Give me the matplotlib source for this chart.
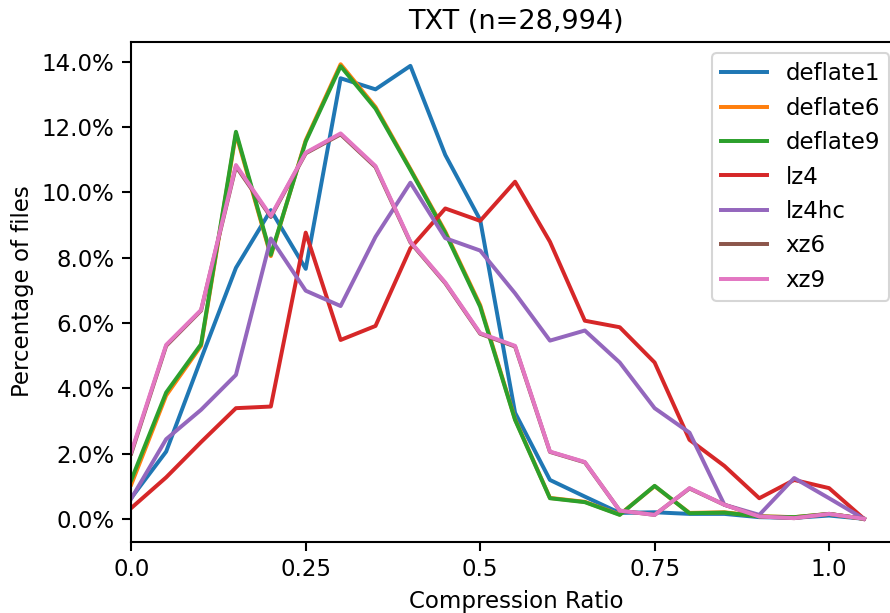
import matplotlib
matplotlib.use("Agg")
import matplotlib.pyplot as plt
from matplotlib.ticker import PercentFormatter

# compression ratio buckets (0.00 .. 1.05, step 0.05)
ratios = [0.0, 0.05, 0.1, 0.15, 0.2, 0.25, 0.3, 0.35, 0.4, 0.45, 0.5,
          0.55, 0.6, 0.65, 0.7, 0.75, 0.8, 0.85, 0.9, 0.95, 1.0, 1.05]

# percentage of files per bucket, one list per codec
deflate1 = [0.64, 2.06, 4.9, 7.69, 9.46, 7.66, 13.5, 13.16, 13.88, 11.15, 9.16,
            3.25, 1.19, 0.68, 0.18, 0.2, 0.15, 0.15, 0.05, 0.03, 0.1, 0.0]
deflate6 = [1.05, 3.78, 5.3, 11.8, 8.05, 11.6, 13.93, 12.62, 10.72, 8.8, 6.55,
            3.05, 0.64, 0.52, 0.13, 1.0, 0.18, 0.2, 0.08, 0.05, 0.15, 0.0]
deflate9 = [1.19, 3.87, 5.35, 11.86, 8.09, 11.56, 13.87, 12.57, 10.69, 8.76, 6.5,
            3.03, 0.63, 0.51, 0.12, 1.01, 0.17, 0.19, 0.07, 0.05, 0.15, 0.0]
lz4 = [0.33, 1.27, 2.35, 3.39, 3.44, 8.77, 5.48, 5.91, 8.29, 9.51, 9.13,
       10.33, 8.49, 6.07, 5.87, 4.79, 2.42, 1.62, 0.63, 1.19, 0.94, 0.0]
lz4hc = [0.62, 2.44, 3.34, 4.41, 8.59, 6.99, 6.52, 8.64, 10.3, 8.6, 8.22,
         6.91, 5.46, 5.77, 4.79, 3.39, 2.64, 0.43, 0.12, 1.25, 0.63, 0.0]
xz6 = [2.0, 5.3, 6.38, 10.8, 9.25, 11.2, 11.78, 10.78, 8.47, 7.22, 5.67,
       5.28, 2.05, 1.73, 0.25, 0.12, 0.93, 0.43, 0.07, 0.02, 0.15, 0.0]
xz9 = [2.05, 5.33, 6.4, 10.84, 9.28, 11.22, 11.81, 10.81, 8.49, 7.24, 5.69,
       5.3, 2.06, 1.74, 0.25, 0.12, 0.94, 0.43, 0.07, 0.02, 0.15, 0.0]

names = ["deflate1", "deflate6", "deflate9", "lz4", "lz4hc", "xz6", "xz9"]
series = [deflate1, deflate6, deflate9, lz4, lz4hc, xz6, xz9]

plt.rcParams["font.size"] = 11

fig = plt.figure(figsize=(890 / 150, 613 / 150), dpi=150)
ax = fig.add_axes([0.1475, 0.1166, 0.8644, 0.8157])

for name, vals in zip(names, series):
    ax.plot(ratios, vals, label=name, linewidth=1.9)

ax.set_xlim(left=0)
ax.set_xticks([0, 0.25, 0.5, 0.75, 1.0])
ax.set_xticklabels(["0.0", "0.25", "0.5", "0.75", "1.0"])
ax.yaxis.set_major_formatter(PercentFormatter(decimals=1))
ax.tick_params(width=1.0, length=4.5)
for sp in ax.spines.values():
    sp.set_linewidth(1.0)

ax.set_title("TXT (n=28,994)", fontsize=13)
ax.set_xlabel("Compression Ratio")
ax.set_ylabel("Percentage of files")
ax.legend(loc="upper right")

fig.savefig("out.png", dpi=150)
